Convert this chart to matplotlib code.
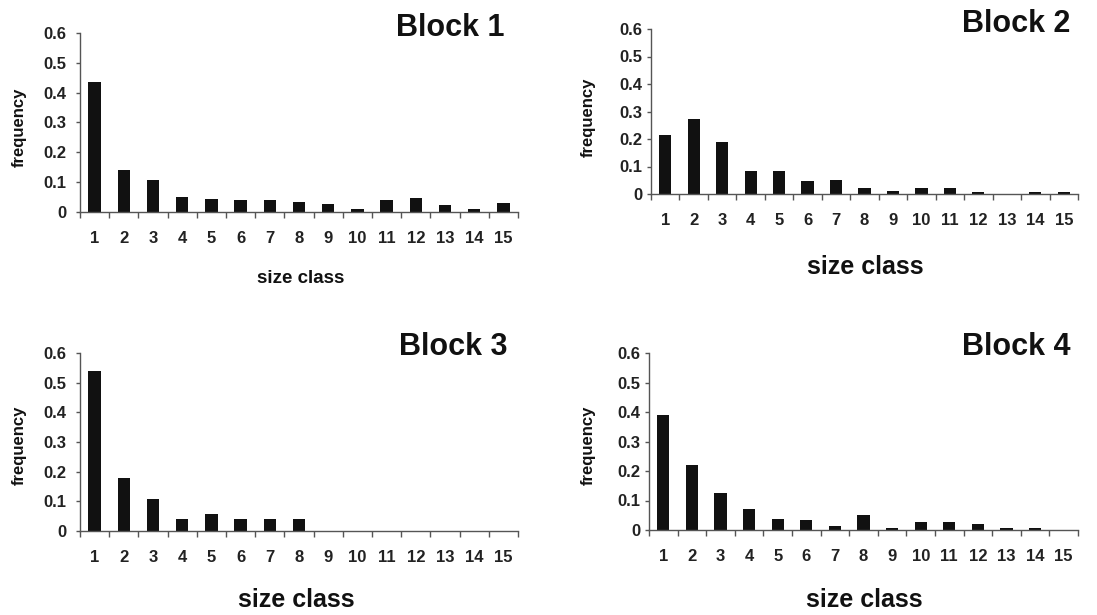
import matplotlib
matplotlib.use("Agg")
import matplotlib.pyplot as plt
import numpy as np

plt.rcParams['font.family'] = ['Liberation Sans', 'DejaVu Sans']
plt.rcParams['font.weight'] = 'bold'

size_classes = list(range(1, 16))
block1 = [0.436, 0.142, 0.108, 0.051, 0.045, 0.040, 0.040, 0.035, 0.028, 0.011, 0.040, 0.046, 0.022, 0.011, 0.029]
block2 = [0.215, 0.272, 0.190, 0.084, 0.084, 0.046, 0.052, 0.021, 0.010, 0.021, 0.021, 0.009, 0.0, 0.009, 0.009]
block3 = [0.539, 0.180, 0.109, 0.039, 0.057, 0.039, 0.039, 0.039, 0, 0, 0, 0, 0, 0, 0]
block4 = [0.390, 0.219, 0.127, 0.072, 0.037, 0.033, 0.015, 0.050, 0.008, 0.026, 0.026, 0.019, 0.008, 0.008, 0.0]
titles = ["Block 1", "Block 2", "Block 3", "Block 4"]
yticks = [0, 0.1, 0.2, 0.3, 0.4, 0.5, 0.6]
ytick_labels = ["0", "0.1", "0.2", "0.3", "0.4", "0.5", "0.6"]

W, H = 1097, 615
fig = plt.figure(figsize=(W / 100, H / 100), dpi=100)

# pixel layouts: left, right, top, bottom
boxes = [(80, 518, 33, 212), (651, 1078, 29, 194), (80, 518, 353, 531), (649, 1078, 353, 530)]
title_pos = [(505, 36), (1070, 32), (508, 355), (1070, 355)]
xlabel_pos = [(301, 283, 13.5), (865, 274, 18), (296, 607, 18), (864, 607, 18)]
ylabel_pos = [(19, 127), (588, 117), (19, 445), (588, 445)]
ylab_pad = [7, 3, 7, 3]

data = [block1, block2, block3, block4]
x = np.array(size_classes)
for i, vals in enumerate(data):
    l, r, t, b = boxes[i]
    ax = fig.add_axes([l / W, 1 - b / H, (r - l) / W, (b - t) / H])
    ax.bar(x, vals, width=0.43, color='#111111')
    ax.set_xlim(0.5, 15.5)
    ax.set_ylim(0, 0.6)
    for s in ['top', 'right']:
        ax.spines[s].set_visible(False)
    for s in ['left', 'bottom']:
        ax.spines[s].set_color('#555555')
        ax.spines[s].set_linewidth(1.0)
    ax.set_yticks(yticks)
    ax.set_yticklabels(ytick_labels, fontsize=12, fontweight='bold', color='#222222')
    ax.tick_params(axis='y', length=3, width=1, color='#555555', pad=ylab_pad[i])
    ax.set_xticks(np.arange(0.5, 16, 1))
    ax.set_xticklabels([])
    ax.tick_params(axis='x', which='major', length=4, width=1, color='#555555')
    ax.set_xticks(x, minor=True)
    ax.set_xticklabels([str(v) for v in size_classes], minor=True, fontsize=12,
                       fontweight='bold', color='#222222')
    ax.tick_params(axis='x', which='minor', length=0, pad=14)

    tx, ty = title_pos[i]
    fig.text(tx / W, 1 - ty / H, titles[i], ha='right', va='baseline',
             fontsize=22, fontweight='bold', color='#111111')
    lx, ly, fs = xlabel_pos[i]
    fig.text(lx / W, 1 - ly / H, "size class", ha='center', va='baseline',
             fontsize=fs, fontweight='bold', color='#111111')
    yx, yy = ylabel_pos[i]
    fig.text(yx / W, 1 - yy / H, "frequency", ha='center', va='center', rotation=90,
             fontsize=12, fontweight='bold', color='#111111')

fig.savefig("out.png", dpi=100, facecolor='white')
